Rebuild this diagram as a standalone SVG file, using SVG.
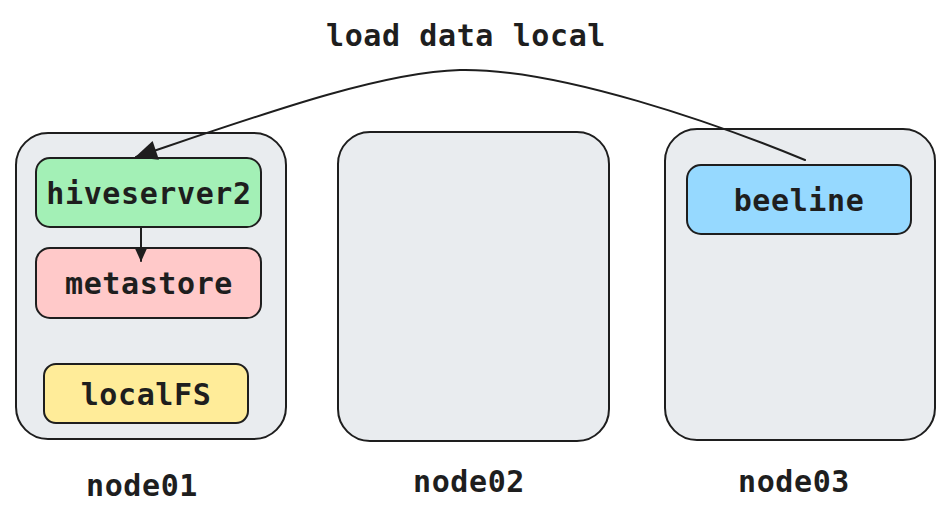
<svg xmlns="http://www.w3.org/2000/svg" width="950" height="521" viewBox="0 0 950 521">
<defs>
<style>
.box{stroke:#1e1e1e;stroke-width:2;}
.node{fill:#e9ecef;}
.lbl{font-family:"DejaVu Sans Mono","Liberation Mono",monospace;font-weight:bold;font-size:30px;fill:#1e1e1e;text-anchor:middle;letter-spacing:0.6px;}
.conn{fill:none;stroke:#1e1e1e;stroke-width:2;stroke-linecap:round;}
</style>
<marker id="ah" viewBox="0 0 20 20" refX="19" refY="10" markerWidth="18" markerHeight="14" markerUnits="userSpaceOnUse" orient="auto">
<path d="M0,1 L20,10 L0,19 Z" fill="#1e1e1e"/>
</marker>
<marker id="ahBig" viewBox="0 0 20 20" refX="19" refY="10" markerWidth="24" markerHeight="22" markerUnits="userSpaceOnUse" orient="auto">
<path d="M0,1 L20,10 L0,19 Z" fill="#1e1e1e"/>
</marker>
</defs>
<rect width="950" height="521" fill="#ffffff"/>

<g id="node01">
<rect class="box node" x="16" y="133" width="270" height="306" rx="32"/>
<text class="lbl" x="142" y="496">node01</text>
</g>
<g id="node02">
<rect class="box node" x="338" y="132" width="271" height="309" rx="32"/>
<text class="lbl" x="469" y="492">node02</text>
</g>
<g id="node03">
<rect class="box node" x="665" y="129" width="270" height="311" rx="32"/>
<text class="lbl" x="794" y="492">node03</text>
</g>

<g id="hiveserver2">
<rect class="box" x="36" y="158" width="225" height="69" rx="14" fill="#a3f0b6"/>
<text class="lbl" x="149" y="204">hiveserver2</text>
</g>
<g id="metastore">
<rect class="box" x="36" y="248" width="225" height="70" rx="14" fill="#ffc9c9"/>
<text class="lbl" x="149" y="294">metastore</text>
</g>
<g id="localFS">
<rect class="box" x="44" y="364" width="204" height="59" rx="12" fill="#ffec99"/>
<text class="lbl" x="146" y="405">localFS</text>
</g>
<g id="beeline">
<rect class="box" x="687" y="165" width="224" height="69" rx="14" fill="#96d9ff"/>
<text class="lbl" x="799" y="211">beeline</text>
</g>

<g id="connectors">
<path class="conn" d="M805,160 C720,125 560,68 460,70 C380,72 260,115 136,157" marker-end="url(#ahBig)"/>
<path class="conn" d="M141,227 L141,261" marker-end="url(#ah)"/>
<text class="lbl" x="466" y="46">load data local</text>
</g>
</svg>
